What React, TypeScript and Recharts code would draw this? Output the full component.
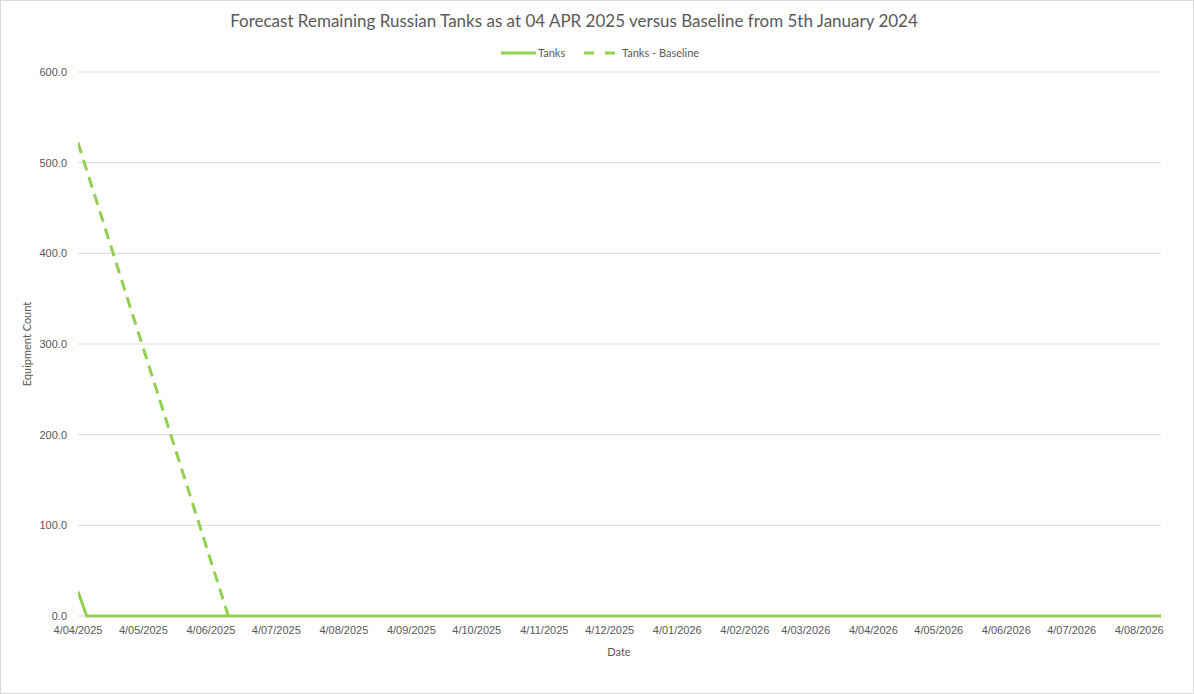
import React from "react";
import { LineChart, Line, XAxis, YAxis, CartesianGrid } from "recharts";

const START = "2025-04-04";
const END = "2026-08-14";

const tickDates = [
  "2025-04-04", "2025-05-04", "2025-06-04", "2025-07-04", "2025-08-04", "2025-09-04",
  "2025-10-04", "2025-11-04", "2025-12-04", "2026-01-04", "2026-02-04", "2026-03-04",
  "2026-04-04", "2026-05-04", "2026-06-04", "2026-07-04", "2026-08-04",
];

const tanksDates = ["2025-04-04", "2025-04-08", "2026-08-14"];
const tanksValues = [27, 0, 0];

const baselineDates = ["2025-04-04", "2025-06-12"];
const baselineValues = [522, 0];

const yTicks = [0, 100, 200, 300, 400, 500, 600];

const dayOf = (s: string) => {
  const [y, m, d] = s.split("-").map(Number);
  const [y0, m0, d0] = START.split("-").map(Number);
  return Math.round((Date.UTC(y, m - 1, d) - Date.UTC(y0, m0 - 1, d0)) / 86400000);
};

const fmtDate = (s: string) => {
  const [y, m, d] = s.split("-");
  return `${Number(d)}/${m}/${y}`;
};

const tickDays = tickDates.map(dayOf);
const tickLabelMap: Record<number, string> = {};
tickDates.forEach((s) => (tickLabelMap[dayOf(s)] = fmtDate(s)));

const tanksData = tanksDates.map((d, i) => ({ day: dayOf(d), value: tanksValues[i] }));
const baselineData = baselineDates.map((d, i) => ({ day: dayOf(d), value: baselineValues[i] }));

const GREEN = "#92D050";
const TEXT = "#595959";
const tickFont = { fontFamily: "'Liberation Sans', Arial, sans-serif", fontSize: 11, fill: TEXT };

export default function App() {
  return (
    <div style={{ position: "absolute", left: 0, top: 0, width: 1194, height: 694, background: "#fff", overflow: "hidden" }}>
      <LineChart width={1194} height={694} data={tanksData} margin={{ top: 72, right: 33, bottom: 48, left: 0 }}>
        <CartesianGrid horizontal vertical={false} stroke="#d9d9d9" strokeWidth={1} />
        <XAxis
          type="number"
          dataKey="day"
          domain={[0, dayOf(END)]}
          ticks={tickDays}
          tickFormatter={(v: number) => tickLabelMap[v] ?? ""}
          axisLine={false}
          tickLine={false}
          tickSize={0}
          tickMargin={10}
          tick={tickFont}
          interval={0}
          height={30}
          allowDataOverflow
        />
        <YAxis
          type="number"
          domain={[0, 600]}
          ticks={yTicks}
          tickFormatter={(v: number) => v.toFixed(1)}
          axisLine={false}
          tickLine={false}
          tickSize={0}
          tickMargin={11}
          width={78}
          tick={tickFont}
        />
        <Line
          data={baselineData}
          dataKey="value"
          type="linear"
          stroke={GREEN}
          strokeWidth={3}
          strokeDasharray="11 7"
          dot={false}
          activeDot={false}
          isAnimationActive={false}
        />
        <Line
          data={tanksData}
          dataKey="value"
          type="linear"
          stroke={GREEN}
          strokeWidth={3}
          dot={false}
          activeDot={false}
          isAnimationActive={false}
        />
      </LineChart>

      <div style={{ position: "absolute", left: 0, width: 1148, top: 10, textAlign: "center", fontFamily: "Lato, sans-serif", fontSize: 17, color: TEXT, whiteSpace: "nowrap" }}>
        Forecast Remaining Russian Tanks as at 04 APR 2025 versus Baseline from 5th January 2024
      </div>

      <svg style={{ position: "absolute", left: 0, top: 0 }} width={1194} height={694}>
        <line x1={501} y1={53} x2={536} y2={53} stroke={GREEN} strokeWidth={3} />
        <text x={538} y={57} style={{ fontFamily: "Lato, sans-serif", fontSize: 11, fill: TEXT }}>Tanks</text>
        <line x1={584} y1={53} x2={616} y2={53} stroke={GREEN} strokeWidth={3} strokeDasharray="10 11" />
        <text x={622} y={57} style={{ fontFamily: "Lato, sans-serif", fontSize: 11, fill: TEXT }}>Tanks - Baseline</text>
        <text x={619} y={656} textAnchor="middle" style={{ fontFamily: "Lato, sans-serif", fontSize: 11, fill: TEXT }}>Date</text>
        <text x={31} y={344} textAnchor="middle" transform="rotate(-90 31 344)" style={{ fontFamily: "Lato, sans-serif", fontSize: 11, fill: TEXT }}>Equipment Count</text>
        <rect x={0.5} y={0.5} width={1193} height={693} fill="none" stroke="#d9d9d9" strokeWidth={1} />
      </svg>
    </div>
  );
}
